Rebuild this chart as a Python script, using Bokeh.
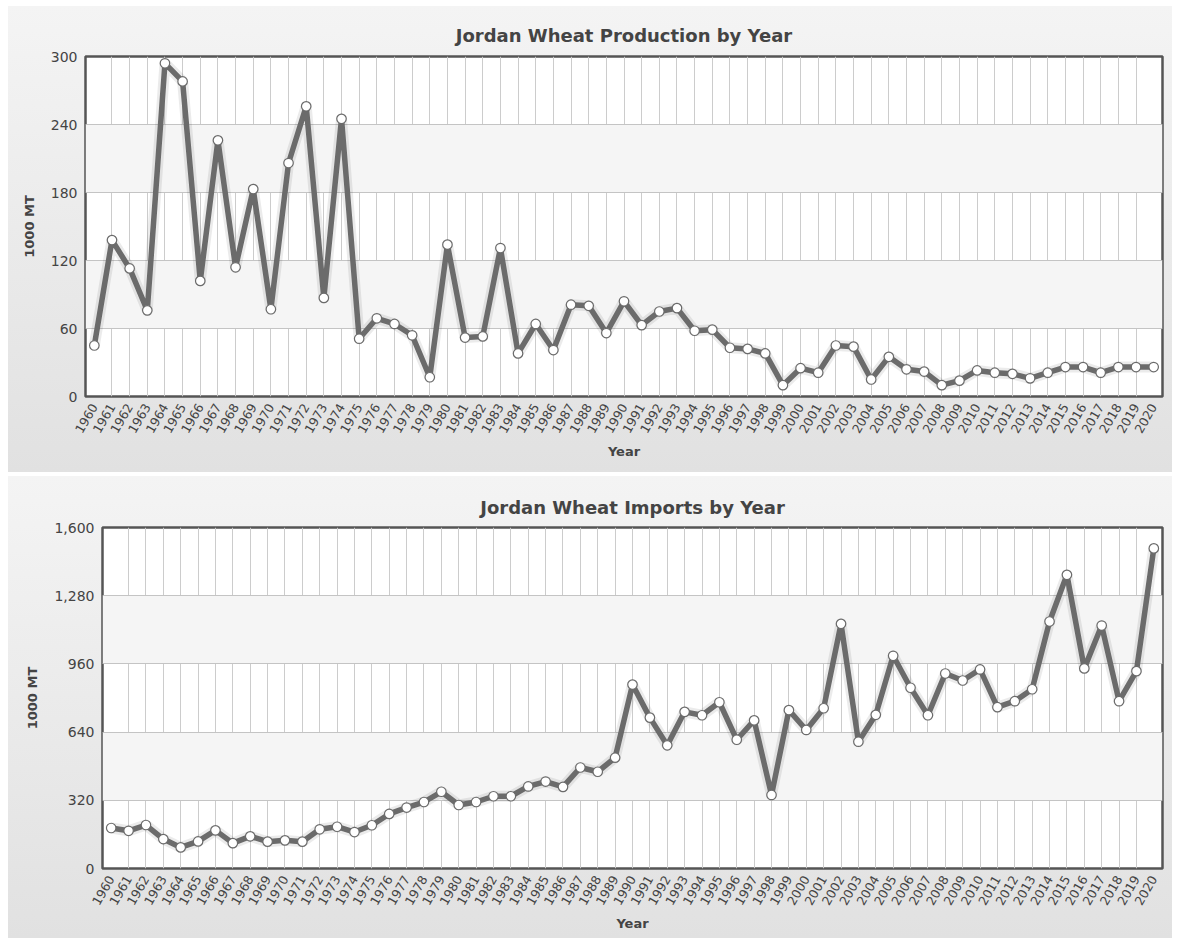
from bokeh.plotting import figure
from bokeh.models import Range1d, FixedTicker, NumeralTickFormatter, ColumnDataSource
from bokeh.embed import file_html
from bokeh.resources import INLINE
import math

years = list(range(1960, 2021))

production = [45, 138, 113, 76, 294, 278, 102, 226, 114, 183,
              77, 206, 256, 87, 245, 51, 69, 64, 54, 17,
              134, 52, 53, 131, 38, 64, 41, 81, 80, 56,
              84, 63, 75, 78, 58, 59, 43, 42, 38, 10,
              25, 21, 45, 44, 15, 35, 24, 22, 10, 14,
              23, 21, 20, 16, 21, 26, 26, 21, 26, 26, 26]

imports = [190, 177, 204, 138, 99, 127, 179, 119, 151, 126,
           132, 126, 184, 196, 171, 203, 256, 286, 312, 360,
           298, 312, 339, 339, 385, 408, 383, 474, 454, 520,
           863, 708, 578, 735, 719, 780, 604, 695, 345, 743,
           650, 752, 1148, 595, 721, 998, 848, 719, 915, 882,
           934, 757, 785, 841, 1159, 1378, 939, 1140, 785, 926, 1502]

prod_ticks = [0, 60, 120, 180, 240, 300]
imp_ticks = [0, 320, 640, 960, 1280, 1600]

titles = ["Jordan Wheat Production by Year", "Jordan Wheat Imports by Year"]
y_label = "1000 MT"
x_label = "Year"

FONT = "DejaVu Sans"
TXT = "#444444"
LINE = "#6b6b6b"


def make_chart(title, values, ticks, height, mb_left, mb_top, mb_bottom, fmt, margin, tstand):
    p = figure(width=1164, height=height, output_backend="svg", toolbar_location=None,
               x_range=Range1d(years[0] - 0.5, years[-1] + 0.5),
               y_range=Range1d(ticks[0], ticks[-1]),
               min_border_left=mb_left, min_border_right=10,
               min_border_top=mb_top, min_border_bottom=mb_bottom)
    p.margin = margin
    p.border_fill_color = None
    p.styles = {"background": "linear-gradient(#f4f4f4, #e1e1e1)"}
    p.background_fill_color = "#ffffff"
    p.outline_line_color = "#555555"
    p.outline_line_width = 2.5

    p.title.text = title
    p.title.align = "center"
    p.title.text_font = FONT
    p.title.text_font_size = "18px"
    p.title.text_font_style = "bold"
    p.title.text_color = TXT
    p.title.standoff = tstand

    # y axis
    p.yaxis.ticker = FixedTicker(ticks=ticks)
    p.yaxis.formatter = NumeralTickFormatter(format=fmt)
    p.yaxis.axis_label = y_label
    p.yaxis.axis_label_text_font = FONT
    p.yaxis.axis_label_text_font_size = "13px"
    p.yaxis.axis_label_text_font_style = "bold"
    p.yaxis.axis_label_text_color = TXT
    p.yaxis.axis_label_standoff = 11
    p.yaxis.major_label_text_font = FONT
    p.yaxis.major_label_text_font_size = "14px"
    p.yaxis.major_label_text_color = TXT
    p.yaxis.axis_line_color = None
    p.yaxis.major_tick_line_color = None
    p.yaxis.minor_tick_line_color = None
    p.yaxis.major_tick_out = 0
    p.yaxis.major_tick_in = 0
    p.yaxis.major_label_standoff = 8

    # x axis
    p.xaxis.ticker = FixedTicker(ticks=years)
    p.xaxis.axis_label = x_label
    p.xaxis.axis_label_text_font = FONT
    p.xaxis.axis_label_text_font_size = "13px"
    p.xaxis.axis_label_text_font_style = "bold"
    p.xaxis.axis_label_text_color = TXT
    p.xaxis.axis_label_standoff = 4
    p.xaxis.major_label_text_font = FONT
    p.xaxis.major_label_text_font_size = "12.5px"
    p.xaxis.major_label_text_color = TXT
    p.xaxis.major_label_orientation = math.radians(60)
    p.xaxis.major_label_standoff = 8
    p.xaxis.axis_line_color = None
    p.xaxis.major_tick_line_color = None
    p.xaxis.minor_tick_line_color = None
    p.xaxis.major_tick_out = 0
    p.xaxis.major_tick_in = 0

    # grids
    p.xgrid.ticker = FixedTicker(ticks=years[1:-1])
    p.xgrid.grid_line_color = "#cccccc"
    p.xgrid.grid_line_width = 1
    p.ygrid.ticker = FixedTicker(ticks=ticks)
    p.ygrid.grid_line_color = "#c4c4c4"
    p.ygrid.grid_line_width = 1
    p.ygrid.band_fill_color = "#f5f5f5"
    p.ygrid.band_fill_alpha = 1.0

    src = ColumnDataSource(dict(x=years, y=values))
    p.line("x", "y", source=src, line_color="#000000", line_alpha=0.08, line_width=11,
           line_join="round")
    p.line("x", "y", source=src, line_color=LINE, line_width=5.5, line_join="round")
    p.scatter("x", "y", source=src, size=9.5, fill_color="#ffffff", line_color=LINE,
              line_width=1.2)
    return p


p1 = make_chart(titles[0], production, prod_ticks, 466, 77, 50, 76, "0,0", (6, 0, 0, 8), 22)
p2 = make_chart(titles[1], imports, imp_ticks, 462, 94, 51, 70, "0,0", (4, 0, 0, 8), 20)

open("out.html", "w").write(file_html([p1, p2], INLINE))
